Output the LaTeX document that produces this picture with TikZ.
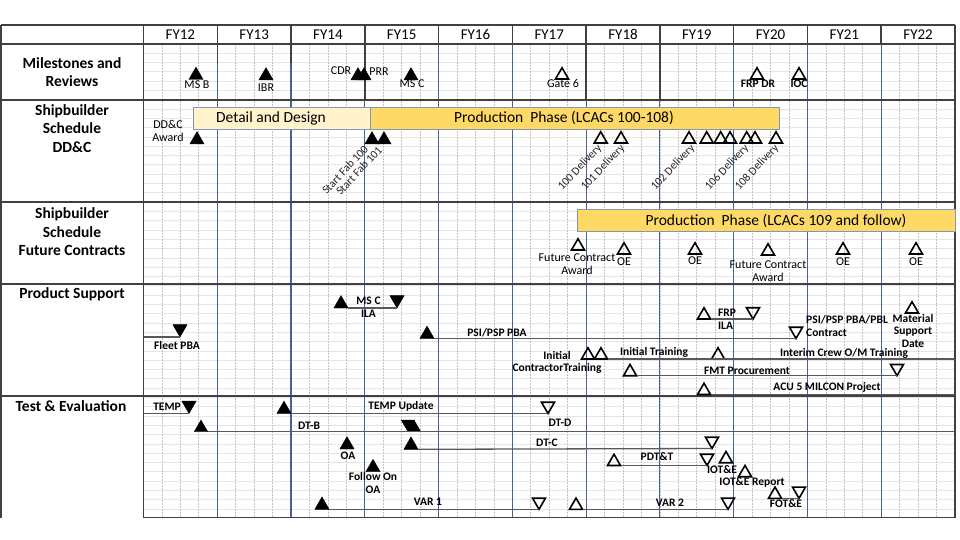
\documentclass[tikz,border=0pt]{standalone}
\usepackage{fontspec}
\setmainfont{Carlito}
\usepackage{tikz}
\usetikzlibrary{shapes.geometric}
\definecolor{rulegray}{RGB}{64,64,64}
\definecolor{fyblue}{RGB}{72,98,150}
\definecolor{qgray}{RGB}{195,195,195}
\definecolor{hgray}{RGB}{230,230,230}
\definecolor{conngray}{RGB}{89,89,89}
\definecolor{ddfill}{RGB}{255,242,204}
\definecolor{prodfill}{RGB}{255,217,102}
\definecolor{barline}{RGB}{132,151,176}
\tikzset{
  rule/.style={draw=rulegray, line width=1.5pt},
  fyline/.style={draw=fyblue, line width=1.1pt},
  qline/.style={draw=qgray, line width=0.8pt, dash pattern=on 2pt off 1pt},
  hgrid/.style={draw=hgray, line width=0.8pt},
  conn/.style={draw=conngray, line width=1.3pt},
  tri/.style={regular polygon, regular polygon sides=3, inner sep=0pt, outer sep=0pt},
  msfill/.style={tri, fill=black, draw=black, line width=0.4pt, minimum size=16.5pt},
  msopen/.style={tri, draw=black, line width=1.6pt, minimum size=15pt},
  tup/.style={anchor=side 2},
  tdn/.style={shape border rotate=180, anchor=corner 1},
  lbl/.style={inner sep=0pt, align=center, font=\fontsize{12}{12.5}\selectfont},
  blbl/.style={inner sep=0pt, align=center, font=\bfseries\fontsize{11.5}{13}\selectfont},
  rlbl/.style={inner sep=0pt, rotate=47, anchor=east, text=black!85, font=\fontsize{11.5}{12}\selectfont},
  rowlbl/.style={inner sep=0pt, align=center, font=\bfseries\fontsize{15.5}{18.5}\selectfont},
  hdr/.style={inner sep=0pt, anchor=base, font=\fontsize{15}{16}\selectfont},
  bartxt/.style={inner sep=0pt, font=\fontsize{15.5}{16}\selectfont},
  ddbar/.style={draw=barline, fill=ddfill, line width=1pt, anchor=north west, minimum height=22pt, inner sep=0pt},
  prodbar/.style={ddbar, fill=prodfill}
}

\begin{document}
\begin{tikzpicture}[x=1pt,y=-1pt]
  \useasboundingbox (0,0) rectangle (960,540);
  % grid
  \foreach \j in {1,...,50}
    \draw[hgrid] (143.5,{44+\j*9.3}) -- (955,{44+\j*9.3});
  \foreach \i in {1,...,43}
    \draw[qline] ({143.5+\i*18.443},44) -- ({143.5+\i*18.443},517.5);
  \foreach \i in {1,...,10}{
    \draw[fyline] ({143.5+\i*73.77},44) -- ({143.5+\i*73.77},517.5);
    \draw[rule] ({143.5+\i*73.77},25) -- ({143.5+\i*73.77},44);
  }
  \draw[rule] (217.3,44) -- (217.3,63) (291,44) -- (291,63);
  \draw[rule] (364.8,44) -- (364.8,100) (586.1,44) -- (586.1,100) (659.9,44) -- (659.9,100);
  \foreach \fy [count=\i from 0] in {12,...,22}
    \node[hdr] (fy\fy) at ({143.5+(\i+0.5)*73.77},40) {FY\fy};

  % table rules
  \foreach \yy in {25,44,100,202,284,396}
    \draw[rule] (0.8,\yy) -- (955,\yy);
  \draw[rule] (143.5,517.5) -- (955,517.5);
  \draw[rule] (0.8,25) -- (0.8,517.5);
  \draw[rule] (143.5,25) -- (143.5,517.5);
  \draw[rule] (955,25) -- (955,517.5);

  % row titles
  \node[rowlbl] (rowMS) at (72,72) {Milestones and\\Reviews};
  \node[rowlbl] (rowDD) at (72,128.5) {Shipbuilder\\Schedule\\DD\&C};
  \node[rowlbl] (rowFC) at (72,232) {Shipbuilder\\Schedule\\Future Contracts};
  \node[rowlbl] (rowPS) at (72,294) {Product Support};
  \node[rowlbl] (rowTE) at (71,406) {Test \& Evaluation};

  % phase bars
  \node[ddbar, minimum width=177pt] (barDD) at (193,107) {};
  \node[prodbar, minimum width=409pt] (barProd) at (370,107) {};
  \node[prodbar, minimum width=378pt] (barFut) at (577,209) {};
  \node[bartxt] (txtDD) at (271,118) {Detail and Design};
  \node[bartxt] (txtProd) at (564,118) {Production\ \ Phase (LCACs 100-108)};
  \node[bartxt] (txtFut) at (776,220.5) {Production\ \ Phase (LCACs 109 and follow)};

  % milestones and reviews
  \node[msfill, tup] (msB) at (196,79.5) {};
  \node[msfill, tup] (ibr) at (266,80) {};
  \node[msfill, tup] (cdr) at (358,80) {};
  \node[msfill, tup] (prr) at (364,80) {};
  \node[msfill, tup] (msC) at (411,80) {};
  \node[msopen, tup] (gate6) at (562,79) {};
  \node[msopen, tup] (frpDR) at (757,79) {};
  \node[msopen, tup] (ioc) at (799,79) {};
  \node[lbl] (lbMSB) at (197,84.5) {MS B};
  \node[lbl] (lbIBR) at (266,88) {IBR};
  \node[lbl] (lbCDR) at (341,71) {CDR};
  \node[lbl] (lbPRR) at (379,72) {PRR};
  \node[lbl] (lbMSC) at (412,84) {MS C};
  \node[lbl] (lbGate) at (563,83) {Gate 6};
  \node[lbl, font=\bfseries\fontsize{11.5}{12}\selectfont] (lbFRPDR) at (758,84) {FRP DR};
  \node[lbl, font=\bfseries\fontsize{11.5}{12}\selectfont] (lbIOC) at (799,84) {IOC};

  % shipbuilder DD&C
  \node[msfill, tup] (award) at (197,144) {};
  \node[msfill, tup] (fab100) at (372,144) {};
  \node[msfill, tup] (fab101) at (384,144) {};
  \node[lbl] (lbAward) at (168,131) {DD\&C\\Award};
  \node[rlbl] (lbFab100) at (366,147) {Start Fab 100};
  \node[rlbl] (lbFab101) at (380,148) {Start Fab 101};
  \foreach \n/\xx in {100/600.7,101/621,102/689,103/706.7,104/720.7,105/730,106/746.7,107/755,108/776}
    \node[msopen, tup] (dl\n) at (\xx,143) {};
  \foreach \n/\xx in {100/600,101/623,102/693,106/747,108/777}
    \node[rlbl] (lbDl\n) at (\xx,146) {\n\ Delivery};

  % shipbuilder future contracts
  \node[msopen, tup] (fca1) at (578,250) {};
  \node[msopen, tup] (oe1) at (624,254) {};
  \node[msopen, tup] (oe2) at (695,254) {};
  \node[msopen, tup] (fca2) at (768,255) {};
  \node[msopen, tup] (oe3) at (843,254) {};
  \node[msopen, tup] (oe4) at (916,254) {};
  \node[lbl] (lbFca1) at (577,264) {Future Contract\\Award};
  \node[lbl] (lbFca2) at (768,271) {Future Contract\\Award};
  \node[lbl] (lbOe1) at (624,262) {OE};
  \node[lbl] (lbOe2) at (695,261) {OE};
  \node[lbl] (lbOe3) at (843,262) {OE};
  \node[lbl] (lbOe4) at (916,262) {OE};

  % product support
  \coordinate (fleetStart) at (143.5,337);
  \coordinate (ictEnd) at (955,359);
  \coordinate (acuEnd) at (955,394.5);
  \node[msfill, tdn] (fleet) at (180,337) {};
  \node[msfill, tup] (ilaStart) at (341,308) {};
  \node[msfill, tdn] (ilaEnd) at (397,308) {};
  \node[msfill, tup] (psiStart) at (427,338.5) {};
  \node[msopen, tdn] (psiEnd) at (796,338.5) {};
  \node[msopen, tup] (frpStart) at (704,319) {};
  \node[msopen, tdn] (frpEnd) at (753,319) {};
  \node[msopen, tup] (matSup) at (912,313) {};
  \node[msopen, tup] (ict1) at (588,359) {};
  \node[msopen, tup] (ict2) at (601,359) {};
  \node[msopen, tup] (initTr) at (718,359) {};
  \node[msopen, tup] (fmtStart) at (630,375.7) {};
  \node[msopen, tdn] (fmtEnd) at (897,375.7) {};
  \node[msopen, tup] (acu) at (704,394.5) {};
  \draw[conn] (fleetStart) -- (fleet.corner 1);
  \draw[conn] (ilaStart.corner 3) -- (ilaEnd.corner 1);
  \draw[conn] (psiStart.corner 3) -- (psiEnd.corner 1);
  \draw[conn] (frpStart.corner 3) -- (frpEnd.corner 1);
  \draw[conn] (ict2.corner 3) -- (ictEnd);
  \draw[conn] (fmtStart.corner 3) -- (fmtEnd.corner 1);
  \draw[conn] (acu.corner 3) -- (acuEnd);
  \node[blbl] (lbIla) at (368.5,307.5) {MS C\\ILA};
  \node[blbl] (lbFleet) at (177,346) {Fleet PBA};
  \node[blbl] (lbPsi) at (497,333) {PSI/PSP PBA};
  \node[blbl, align=left, anchor=west] (lbPsiEnd) at (806,326.5) {PSI/PSP PBA/PBL\\Contract};
  \node[blbl, align=left] (lbFrpIla) at (727,319) {FRP\\ILA};
  \node[blbl, font=\bfseries\fontsize{11.5}{12.5}\selectfont] (lbMat) at (913,331) {Material\\Support\\Date};
  \node[blbl, font=\bfseries\fontsize{11.5}{12}\selectfont] (lbIct) at (557,362) {Initial\\ContractorTraining};
  \node[blbl] (lbInitTr) at (654,352) {Initial Training};
  \node[blbl] (lbInterim) at (844,353) {Interim Crew O/M Training};
  \node[blbl] (lbFmt) at (747,371) {FMT Procurement};
  \node[blbl] (lbAcu) at (827,387) {ACU 5 MILCON Project};

  % test and evaluation
  \coordinate (tempStart) at (143.5,413.5);
  \coordinate (dtbEnd) at (955,431.7);
  \node[msfill, tdn] (temp) at (189,413.5) {};
  \node[msfill, tup] (tempUpd) at (284,413.5) {};
  \node[msopen, tdn] (dtd) at (548,413.5) {};
  \node[msfill, tup, minimum size=15.5pt] (dtb) at (201,431.7) {};
  \node[msfill, tdn, minimum size=15.5pt] (dtbStop) at (408,431.7) {};
  \node[msfill, tup, minimum size=15.5pt] (dtdStart) at (414,431.7) {};
  \node[msfill, tup] (dtc) at (411,449.3) {};
  \node[msopen, tdn] (dtcEnd) at (712,448.5) {};
  \node[msfill, tup] (oa) at (347,449) {};
  \node[msfill, tup] (foa) at (373,471.7) {};
  \node[msopen, tup] (pdt) at (614,465.5) {};
  \node[msopen, tdn] (pdtEnd) at (707,465.5) {};
  \node[msopen, tup] (iote) at (726,462.7) {};
  \node[msopen, tup] (ioteRep) at (745,476.7) {};
  \node[msopen, tup] (fote) at (775,498.3) {};
  \node[msopen, tdn] (foteEnd) at (799,498.3) {};
  \node[msfill, tup] (var1) at (322,509.3) {};
  \node[msopen, tdn] (var1End) at (539,509.3) {};
  \node[msopen, tup] (var2) at (576,509.3) {};
  \node[msopen, tdn] (var2End) at (728,509.3) {};
  \draw[conn] (tempStart) -- (temp.corner 1);
  \draw[conn] (tempUpd.corner 3) -- (dtd.corner 1);
  \draw[conn] (dtb.corner 3) -- (dtbEnd);
  \draw[conn] (dtc.corner 3) -- (dtcEnd.corner 1);
  \draw[conn] (pdt.corner 3) -- (pdtEnd.corner 1);
  \draw[conn] (fote.corner 3) -- (foteEnd.corner 1);
  \draw[conn] (var1.corner 3) -- (var1End.corner 1);
  \draw[conn] (var2.corner 3) -- (var2End.corner 1);
  \node[blbl] (lbTemp) at (167,407) {TEMP};
  \node[blbl] (lbTempUpd) at (401,406) {TEMP Update};
  \node[blbl] (lbDtb) at (309,426) {DT-B};
  \node[blbl] (lbDtd) at (560,423) {DT-D};
  \node[blbl] (lbDtc) at (547,443) {DT-C};
  \node[blbl] (lbOa) at (348,456) {OA};
  \node[blbl, font=\bfseries\fontsize{11.5}{12.5}\selectfont] (lbFoa) at (373,483) {Follow On\\OA};
  \node[blbl] (lbPdt) at (657,457) {PDT\&T};
  \node[blbl] (lbIote) at (722,469.5) {IOT\&E};
  \node[blbl] (lbIoteRep) at (752,482) {IOT\&E Report};
  \node[blbl] (lbFote) at (786,503.5) {FOT\&E};
  \node[blbl] (lbVar1) at (428,502) {VAR 1};
  \node[blbl] (lbVar2) at (670,503) {VAR 2};
\end{tikzpicture}
\end{document}
